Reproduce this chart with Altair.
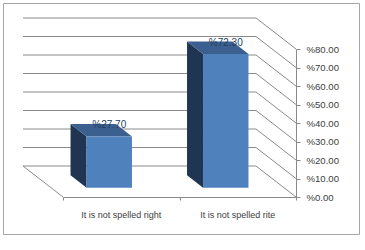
import altair as alt
import pandas as pd

# ---- data ----
categories = ["It is not spelled right", "It is not spelled rite"]
values = [27.7, 72.3]
tick_values = [0, 10, 20, 30, 40, 50, 60, 70, 80]

# ---- layout / 3D projection styling ----
W, H = 356, 231
X_RANGE = [60, 293]      # front floor edge (plot px)
Y_RANGE = [194, 46]      # value 0..80 on the front plane (plot px)
DEPTH_PX = (-40, -31)    # screen offset of the back wall
BAR_W = 0.39             # bar width in category units
BAR_D0, BAR_D1 = 0.3, 0.7  # bar depth span (fraction of floor depth)

px_per_u = (X_RANGE[1] - X_RANGE[0]) / 2
px_per_v = (Y_RANGE[0] - Y_RANGE[1]) / 80
DXU = DEPTH_PX[0] / px_per_u
DYV = -DEPTH_PX[1] / px_per_v

FONT = "Liberation Sans"
GRID_C = "#8a8a8a"

SX = alt.Scale(domain=[0, 2], range=X_RANGE, nice=False, zero=False)
SY = alt.Scale(domain=[0, 80], range=Y_RANGE, nice=False, zero=False)

XAXIS = alt.Axis(values=[0, 1, 2], labels=False, title=None, grid=False,
                 orient="bottom", offset=-(H - Y_RANGE[0]), tickSize=3,
                 domainColor=GRID_C, tickColor=GRID_C)
YAXIS = alt.Axis(values=tick_values, orient="right", offset=X_RANGE[1] - W,
                 title=None, grid=False, tickSize=4, domainColor=GRID_C,
                 tickColor=GRID_C, labelFont=FONT, labelFontSize=9.6,
                 labelColor="#404040", labelPadding=6,
                 labelExpr="'%' + format(datum.value, '.2f')")


def X(f="x"):
    return alt.X(f"{f}:Q", scale=SX, axis=XAXIS)


def Y(f="y"):
    return alt.Y(f"{f}:Q", scale=SY, axis=YAXIS, stack=None)


# back wall gridlines
grid_df = pd.DataFrame({"x": [0 + DXU] * len(tick_values),
                        "x2": [2 + DXU] * len(tick_values),
                        "y": [t + DYV for t in tick_values]})
grid = alt.Chart(grid_df).mark_rule(color=GRID_C, strokeWidth=1).encode(
    x=X(), x2="x2:Q", y=Y())

# side wall diagonals + floor left edge
diag_rows = [{"x": 2 + DXU, "x2": 2, "y": t + DYV, "y2": t} for t in tick_values]
diag_rows.append({"x": 0 + DXU, "x2": 0, "y": DYV, "y2": 0})
diag = alt.Chart(pd.DataFrame(diag_rows)).mark_rule(color=GRID_C, strokeWidth=1).encode(
    x=X(), x2="x2:Q", y=Y(), y2="y2:Q")

side_rows, top_rows, front_rows, lab_rows, cat_rows = [], [], [], [], []
for i, (c, v) in enumerate(zip(categories, values)):
    uL = i + 0.5 - BAR_W / 2
    uR = i + 0.5 + BAR_W / 2
    for d in (BAR_D1, BAR_D0):
        side_rows.append({"cat": c, "x": uL + d * DXU, "y": v + d * DYV, "y2": d * DYV})
        top_rows.append({"cat": c, "y": v + d * DYV, "x": uL + d * DXU, "x2": uR + d * DXU})
    front_rows.append({"cat": c, "x": uL + BAR_D0 * DXU, "x2": uR + BAR_D0 * DXU,
                       "y": BAR_D0 * DYV, "y2": v + BAR_D0 * DYV})
    lab_rows.append({"x": i + 0.5 + BAR_D0 * DXU, "y": v + BAR_D0 * DYV,
                     "t": "%" + format(v, ".2f")})
    cat_rows.append({"x": i + 0.5, "y": 0, "t": c})

side = alt.Chart(pd.DataFrame(side_rows)).mark_area(
    orient="vertical", color="#1f3552", opacity=1).encode(
    x=X(), y=Y(), y2="y2:Q", detail="cat:N")

top = alt.Chart(pd.DataFrame(top_rows)).mark_area(
    orient="horizontal", color="#3b5f8f", opacity=1).encode(
    y=Y(), x=X(), x2="x2:Q", detail="cat:N")

front = alt.Chart(pd.DataFrame(front_rows)).mark_rect(color="#4f81bd").encode(
    x=X(), x2="x2:Q", y=Y(), y2="y2:Q")

vlabels = alt.Chart(pd.DataFrame(lab_rows)).mark_text(
    font=FONT, fontSize=10, color="#243f60", dy=-11, baseline="middle").encode(
    x=X(), y=Y(), text="t:N")

clabels = alt.Chart(pd.DataFrame(cat_rows)).mark_text(
    font=FONT, fontSize=9, color="#404040", dy=18, baseline="middle").encode(
    x=X(), y=Y(), text="t:N")

chart = alt.layer(grid, diag, side, top, front, vlabels, clabels).properties(
    width=W, height=H,
    autosize=alt.AutoSizeParams(type="none"),
    padding={"left": 3, "top": 3, "right": 6, "bottom": 16},
    background="white",
).configure_view(stroke="#a6a6a6", strokeWidth=1)

chart.save("out.html", embed_options={"renderer": "svg", "actions": False})
